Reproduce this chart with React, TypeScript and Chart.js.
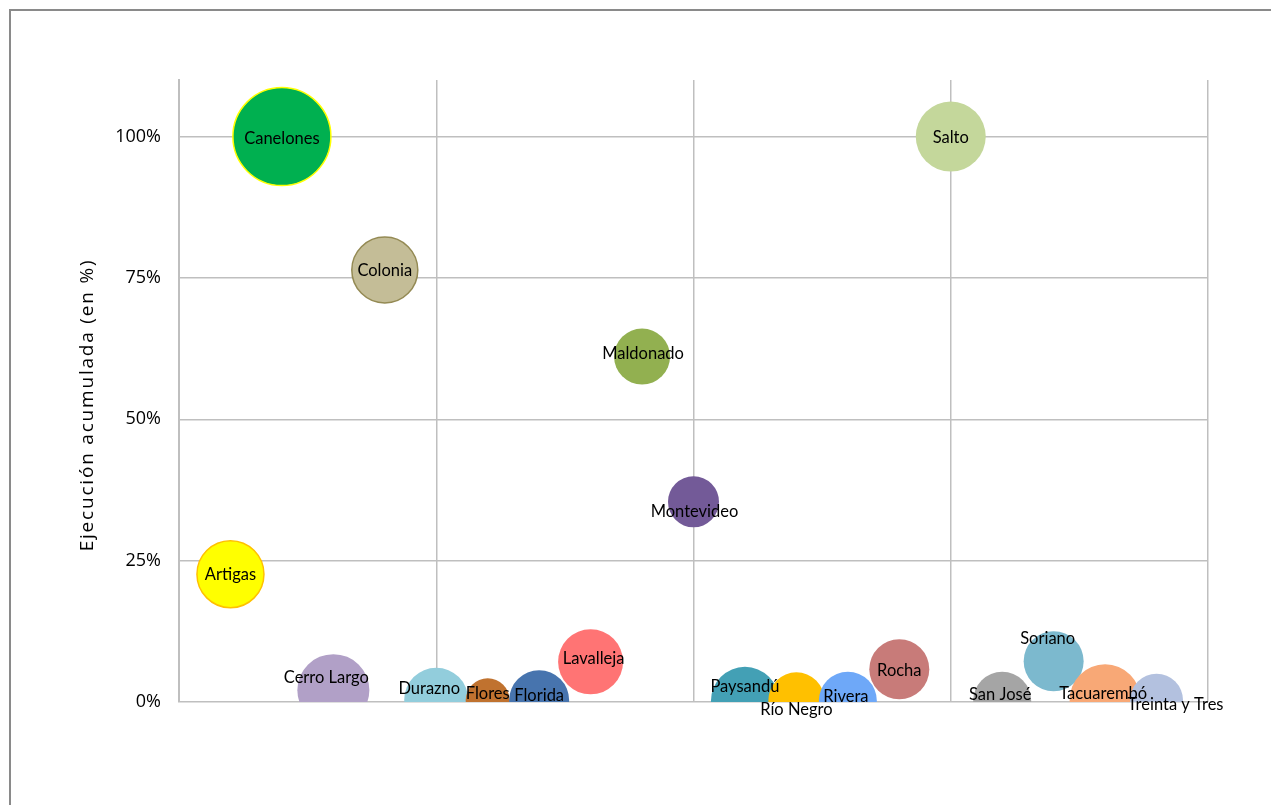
import React, { useEffect, useRef } from "react";
import { Chart, registerables } from "chart.js";

Chart.register(...registerables);

// ---- data ----
const departments = [
  "Artigas", "Canelones", "Cerro Largo", "Colonia", "Durazno", "Flores", "Florida",
  "Lavalleja", "Maldonado", "Montevideo", "Paysandú", "Río Negro", "Rivera", "Rocha",
  "Salto", "San José", "Soriano", "Tacuarembó", "Treinta y Tres",
];
const xPositions = [1, 2, 3, 4, 5, 6, 7, 8, 9, 10, 11, 12, 13, 14, 15, 16, 17, 18, 19];
const execution = [22.6, 100, 2.1, 76.4, 0.4, 0.3, 0.3, 7.1, 61.1, 35.4, 0.2, 0.3, 0.2, 5.8, 100, 0.2, 7.2, 0.4, 0.3];
const bubbleSize = [33.5, 49, 36, 33, 32, 22, 30, 32.5, 28, 25.5, 34, 28, 29, 30, 35, 29, 30, 35.5, 26.5];
const yTickValues = [0, 25, 50, 75, 100];
const axisTitle = "Ejecución acumulada (en %)";

// ---- styles ----
const fillColors = [
  "#FFFF00", "#00B050", "#B1A0C7", "#C4BD97", "#92CDDC", "#C0722F", "#4774AE",
  "#FF7474", "#92B050", "#735A98", "#43A0B5", "#FFC000", "#6EA8F8", "#C87B79",
  "#C4D79B", "#A5A5A5", "#7CB9CE", "#F8A876", "#B3C1DF",
];
const strokeColors = fillColors.map((c, i) => (i === 0 ? "#FFC000" : i === 1 ? "#FFFF00" : i === 3 ? "#948A54" : c));
const strokeWidths = fillColors.map((_, i) => (i === 0 || i === 1 || i === 3 ? 1.5 : 0));
const labelDx = [0, 0, -7, 0, -7, 0, 0, 3, 1, 1, 0, 0, -2, 0, 0, -2, -6, -2, 19];
const labelDy = [0, 2, -12, 1, -11, -7, -5, -3, -3, 10, -14, 9, -4, 1, 1, -6, -23, -6, 4];

const GRID = "#BFBFBF";

const labelPlugin = {
  id: "bubbleLabels",
  afterDatasetsDraw(chart: any) {
    const meta = chart.getDatasetMeta(0);
    const ctx = chart.ctx;
    ctx.save();
    ctx.font = '16.5px Lato';
    ctx.fillStyle = "#000";
    ctx.textAlign = "center";
    ctx.textBaseline = "middle";
    meta.data.forEach((el: any, i: number) => {
      ctx.fillText(departments[i], el.x + labelDx[i], el.y + labelDy[i]);
    });
    ctx.restore();
  },
};

const titlePlugin = {
  id: "yTitle",
  afterDraw(chart: any) {
    const ctx = chart.ctx;
    const area = chart.chartArea;
    const ys = chart.scales.y;
    ctx.save();
    ctx.translate(ys.left + 88, (area.top + area.bottom) / 2 + 14);
    ctx.rotate(-Math.PI / 2);
    ctx.font = '19px "Open Sans"';
    (ctx as any).letterSpacing = "1.8px";
    ctx.fillStyle = "#000";
    ctx.textAlign = "center";
    ctx.textBaseline = "middle";
    ctx.fillText(axisTitle, 0, 0);
    ctx.restore();
  },
};

export default function App() {
  const ref = useRef<HTMLCanvasElement | null>(null);

  useEffect(() => {
    if (!ref.current) return;
    const chart = new Chart(ref.current, {
      type: "bubble",
      data: {
        datasets: [
          {
            label: "Ejecución",
            data: departments.map((_, i) => ({ x: xPositions[i], y: execution[i], r: bubbleSize[i] })),
            backgroundColor: fillColors,
            borderColor: strokeColors,
            borderWidth: strokeWidths,
            clip: 0,
          } as any,
        ],
      },
      options: {
        animation: false,
        responsive: false,
        events: [],
        layout: { padding: { top: 80, right: 63, bottom: 103, left: 0 } },
        plugins: {
          legend: { display: false },
          tooltip: { enabled: false },
        },
        scales: {
          x: {
            type: "linear",
            min: 0,
            max: 20,
            ticks: { stepSize: 5, display: false, includeBounds: false },
            grid: { color: GRID, lineWidth: 1.5, drawTicks: false },
            border: { display: false },
            afterFit: (s: any) => { s.height = 0; },
          },
          y: {
            type: "linear",
            min: 0,
            max: 110,
            afterBuildTicks: (s: any) => { s.ticks = yTickValues.map((v) => ({ value: v })); },
            ticks: {
              padding: 18,
              color: "#000",
              font: { family: "'Open Sans'", size: 18 },
              callback: (v: any) => `${v}%`,
            },
            grid: { color: GRID, lineWidth: 1.5, drawTicks: false },
            border: { display: true, color: GRID, width: 2 },
            afterFit: (s: any) => { s.width = 179; },
          },
        },
      },
      plugins: [labelPlugin, titlePlugin],
    });
    return () => chart.destroy();
  }, []);

  return (
    <div style={{ position: "absolute", left: 0, top: 0, width: 1271, height: 805, background: "#fff", overflow: "hidden" }}>
      <div
        style={{
          position: "absolute",
          left: 9,
          top: 9,
          width: 1400,
          height: 1000,
          borderLeft: "2px solid #8A8A8A",
          borderTop: "2px solid #8A8A8A",
        }}
      />
      <canvas ref={ref} width={1271} height={805} style={{ position: "absolute", left: 0, top: 0 }} />
    </div>
  );
}
